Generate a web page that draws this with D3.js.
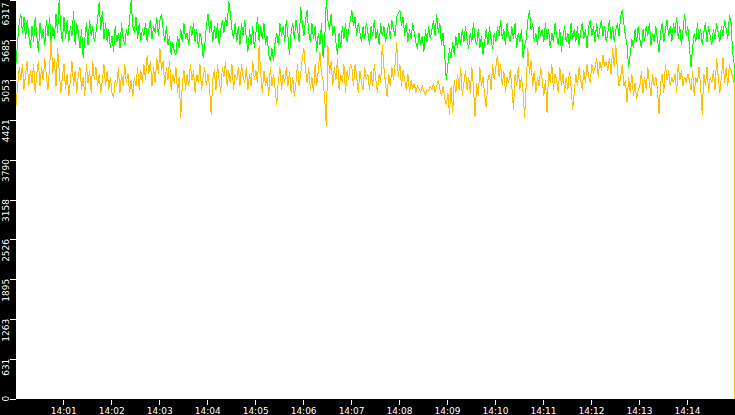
<!DOCTYPE html>
<html>
<head>
<meta charset="utf-8">
<script src="https://cdn.jsdelivr.net/npm/d3@7"></script>
<style>
html, body { margin: 0; padding: 0; background: #000; overflow: hidden; }
svg { display: block; }
</style>
</head>
<body>
<svg id="chart"></svg>
<script>
const width = 735, height = 415;
const plot = { left: 16, right: 735, top: 0, bottom: 399 };

// samples every 2 s, last sample is the drop at the end of the window
const startTime = '14:00:01';
const endTime = '14:15:00';
const stepSeconds = 2;

const xTickLabels = ['14:01', '14:02', '14:03', '14:04', '14:05', '14:06', '14:07',
	'14:08', '14:09', '14:10', '14:11', '14:12', '14:13', '14:14'];
const yTickLabels = [0, 631, 1263, 1895, 2526, 3158, 3790, 4421, 5053, 5685, 6317];

const greenValues = [
	5320, 5650, 5950, 6100, 5800, 6050, 5700, 6000, 5750, 5550,
	5900, 5650, 6050, 5750, 5500, 5950, 5700, 5850, 5600, 6000,
	5750, 6050, 5600, 5900, 5700, 6100, 5800, 6317, 5850, 5650,
	6050, 5700, 6000, 5650, 5900, 5750, 6150, 5600, 5950, 5800,
	5550, 5850, 5400, 5700, 5950, 5600, 6000, 5750, 5900, 5650,
	5800, 6000, 6280, 5850, 6150, 5700, 5950, 5650, 5850, 5550,
	5750, 5500, 5900, 5650, 5800, 5550, 5950, 5700, 5600, 5850,
	5750, 6000, 6317, 5900, 5800, 6050, 5700, 5950, 5650, 5850,
	5750, 5950, 5650, 5850, 6000, 5700, 5900, 5800, 6050, 5750,
	6000, 6100, 5850, 5650, 5900, 5600, 5750, 5450, 5650, 5500,
	5450, 5750, 5550, 5850, 5650, 5950, 5700, 5800, 5600, 5900,
	5750, 5950, 5650, 5850, 5550, 5800, 5700, 5400, 5600, 5900,
	6100, 5800, 6000, 5650, 5900, 5700, 5950, 5600, 5850, 6000,
	5800, 6050, 5900, 6300, 6100, 5850, 5700, 5950, 5650, 5900,
	5600, 5950, 5750, 6000, 5700, 5500, 5850, 5600, 5900, 5550,
	5800, 6050, 5650, 5900, 5700, 5950, 5600, 5750, 5450, 5350,
	5550, 5350, 5650, 5800, 5600, 5950, 5750, 5900, 5650, 6000,
	5750, 5450, 5800, 5950, 5700, 6000, 5850, 5650, 6200, 5950,
	5750, 6000, 6150, 5800, 5650, 5950, 5700, 5900, 5500, 5800,
	5600, 5950, 5400, 5700, 6317, 6000, 5850, 6100, 5750, 5900,
	5650, 5450, 5800, 5550, 5900, 5700, 5950, 5650, 5850, 6000,
	6150, 5900, 6050, 5750, 5950, 5800, 5650, 5900, 5700, 5950,
	5800, 5600, 5900, 5750, 6000, 5700, 5850, 5600, 5950, 5750,
	5900, 5650, 5800, 5950, 5700, 6000, 5850, 5750, 6050, 6100,
	6160, 5900, 6050, 5750, 5950, 5650, 5850, 5700, 5950, 5800,
	5650, 5550, 5800, 5600, 5750, 5500, 5850, 5650, 5900, 5700,
	5850, 6000, 5750, 6100, 5800, 5950, 5600, 5800, 5450, 5050,
	5300, 5550, 5400, 5650, 5450, 5750, 5550, 5800, 5600, 5850,
	5650, 5900, 5700, 5550, 5800, 5650, 5950, 5700, 5600, 5850,
	5550, 5750, 5450, 5650, 5850, 5600, 5900, 5700, 5550, 5800,
	5650, 5900, 5750, 6000, 5700, 5850, 5600, 5950, 5750, 5650,
	5900, 5700, 5950, 5550, 5800, 5650, 5850, 5400, 5600, 5700,
	6000, 6160, 5850, 5950, 5650, 5800, 5600, 5900, 5750, 5850,
	5650, 5950, 5700, 5850, 5550, 5800, 5650, 5950, 5750, 5600,
	5850, 5500, 5750, 5900, 5650, 5800, 5550, 5950, 5700, 5850,
	5650, 5900, 5600, 5800, 5950, 5700, 5850, 5550, 5900, 6000,
	5750, 5900, 5650, 5950, 5700, 5850, 6000, 5750, 5900, 5650,
	5800, 6000, 5700, 5900, 5650, 5850, 5950, 5750, 6050, 6150,
	5950, 5750, 5600, 5250, 5450, 5700, 5550, 5850, 5650, 5900,
	5700, 5550, 5850, 5650, 5900, 5750, 5950, 5600, 5800, 5650,
	5900, 5700, 5500, 5800, 5950, 5650, 5850, 6000, 5750, 5900,
	5650, 5950, 5800, 6050, 5700, 5900, 5600, 5850, 6100, 5750,
	5900, 5600, 5250, 5550, 5800, 5650, 5950, 5700, 5850, 5600,
	5800, 5950, 5650, 5900, 5750, 5600, 5850, 5700, 5950, 5800,
	5650, 5900, 5750, 6000, 5850, 5700, 6080, 5950, 5500, 5300,
	2600
];

const yellowValues = [
	4650, 4950, 5250, 5050, 5300, 4900, 5150, 5350, 4950, 5200,
	5000, 5300, 4850, 5150, 5350, 4950, 5250, 5050, 5400, 5100,
	4900, 5250, 5700, 5150, 5400, 4950, 5550, 5200, 4850, 5100,
	5300, 4900, 5150, 4800, 5050, 5350, 4950, 5200, 4850, 5150,
	5250, 4900, 5100, 4800, 5300, 5000, 5200, 4850, 5350, 5050,
	5250, 4950, 5150, 4850, 5050, 5300, 4950, 5200, 4900, 5100,
	4850, 4760, 5050, 4950, 5250, 4850, 5150, 4950, 5300, 5000,
	5150, 4850, 5050, 4780, 5100, 4950, 5250, 4900, 5200, 5000,
	5300, 5050, 5450, 5150, 5350, 4950, 5250, 5000, 5400, 5150,
	5550, 5200, 5350, 4950, 5250, 5050, 5350, 4900, 5150, 5000,
	5250, 4850, 5100, 4450, 5000, 5200, 4900, 5150, 4950, 5300,
	5050, 5200, 4850, 5150, 5000, 5300, 4900, 5100, 5250, 4950,
	5150, 4950, 4500, 5050, 5200, 4900, 5300, 5050, 4850, 5250,
	5100, 5350, 4950, 5200, 5000, 5300, 4900, 5150, 5050, 5250,
	4950, 5300, 5100, 5000, 5250, 4900, 5150, 4950, 5350, 5050,
	5200, 5000, 5600, 5150, 4850, 5200, 4950, 5100, 4800, 5250,
	4950, 5150, 4900, 4650, 5050, 5250, 4900, 5150, 5000, 5250,
	4950, 5200, 4850, 5100, 4780, 5000, 5300, 4950, 5150, 5400,
	5550, 5200, 5000, 5250, 4900, 5100, 4850, 5300, 4950, 5200,
	5500, 5150, 5050, 4750, 4320, 5600, 5150, 5350, 4950, 5250,
	5050, 5400, 4900, 5150, 5000, 5300, 4850, 5200, 5050, 5300,
	5250, 4950, 5300, 5100, 4850, 5200, 5000, 4900, 5250, 5050,
	5150, 4900, 5200, 4950, 5300, 5050, 4850, 5150, 5000, 5620,
	5250, 5000, 4780, 5150, 4950, 5250, 5050, 5300, 5650, 5100,
	5300, 4950, 5200, 5050, 4900, 5150, 4850, 5050, 4900, 5000,
	4850, 4950, 4900, 4850, 4950, 4870, 4820, 4900, 4880, 4950,
	4900, 5000, 4850, 4950, 5050, 4900, 4800, 4950, 4750, 4650,
	4850, 4500, 4950, 4530, 5050, 4850, 5150, 4900, 5250, 4800,
	5000, 5200, 4900, 5100, 4850, 5250, 4950, 4470, 5000, 4800,
	5250, 4950, 5100, 4800, 4600, 5050, 5150, 4900, 5300, 5050,
	5250, 5450, 5100, 5300, 4950, 5200, 4850, 5100, 5000, 5200,
	4950, 4580, 5150, 4950, 5250, 4900, 5100, 4850, 4450, 5000,
	5550, 5150, 5350, 4950, 5200, 4850, 5100, 4950, 5250, 5050,
	4800, 5050, 4530, 5200, 5000, 5300, 4900, 5150, 5050, 4850,
	5250, 4950, 5150, 4850, 5100, 4900, 5200, 4950, 4580, 4850,
	5150, 4950, 5250, 5050, 4900, 5200, 5000, 5300, 5100, 5000,
	5300, 5150, 5250, 5400, 5100, 5350, 5200, 5450, 5250, 5350,
	5200, 5400, 5150, 5550, 5250, 5600, 5200, 4950, 5100, 5300,
	4950, 5050, 4700, 5100, 4850, 5150, 4800, 5000, 4750, 4900,
	4950, 5200, 4850, 5100, 4900, 5250, 5000, 4800, 5150, 4950,
	5100, 4900, 4520, 5000, 5150, 4850, 5300, 5050, 5200, 4950,
	5100, 5000, 5150, 4850, 5300, 5050, 5200, 4950, 5100, 5000,
	5150, 5050, 4900, 5200, 4800, 5100, 5000, 5250, 4950, 4500,
	5150, 4950, 5250, 4850, 5100, 5000, 5200, 4900, 5400, 5100,
	4850, 5100, 5400, 5000, 5250, 4950, 5300, 5200, 5100, 5000,
	0
];

const colors = { green: '#00ff00', yellow: '#ffc000', axis: '#fff', back: '#000', plot: '#fff' };
const font = { family: '"DejaVu Sans", sans-serif', size: 9 };

const parseTime = d3.timeParse('%H:%M:%S');
const parseTick = d3.timeParse('%H:%M');
const t0 = parseTime(startTime);
const times = d3.range(greenValues.length - 1).map(i => d3.timeSecond.offset(t0, i * stepSeconds));
times.push(parseTime(endTime));

const x = d3.scaleTime().domain([t0, parseTime(endTime)]).range([plot.left, plot.right]);
const y = d3.scaleLinear().domain([0, 6317]).range([plot.bottom, plot.top]);

const svg = d3.select('#chart').attr('width', width).attr('height', height);
svg.append('rect').attr('width', width).attr('height', height).attr('fill', colors.back);
svg.append('rect')
	.attr('x', plot.left).attr('y', plot.top)
	.attr('width', plot.right - plot.left).attr('height', plot.bottom - plot.top)
	.attr('fill', colors.plot);

// green first, yellow is drawn over it
const line = d3.line().x((d, i) => x(times[i])).y(d => y(d));
for (const [values, color] of [[greenValues, colors.green], [yellowValues, colors.yellow]]) {
	svg.append('path')
		.datum(values)
		.attr('d', line)
		.attr('fill', 'none')
		.attr('stroke', color)
		.attr('stroke-width', 1)
		.attr('shape-rendering', 'crispEdges');
}

// bottom axis
const xAxis = d3.axisBottom(x)
	.tickValues(xTickLabels.map(parseTick))
	.tickFormat(d3.timeFormat('%H:%M'))
	.tickSize(5)
	.tickPadding(3);
const xg = svg.append('g')
	.attr('transform', `translate(0,${plot.bottom + 1})`)
	.call(xAxis);
xg.select('.domain').remove();
xg.selectAll('line').attr('stroke', colors.axis).attr('shape-rendering', 'crispEdges');
xg.selectAll('text')
	.attr('fill', colors.axis)
	.attr('font-family', font.family)
	.attr('font-size', font.size);

// left axis, labels rotated
const yAxis = d3.axisLeft(y).tickValues(yTickLabels).tickFormat(d => d).tickSize(6);
const yg = svg.append('g')
	.attr('transform', `translate(${plot.left},0)`)
	.call(yAxis);
yg.select('.domain').remove();
yg.selectAll('line').attr('stroke', colors.axis).attr('shape-rendering', 'crispEdges');
yg.selectAll('text')
	.attr('fill', colors.axis)
	.attr('font-family', font.family)
	.attr('font-size', font.size)
	.attr('dy', null)
	.attr('text-anchor', 'end')
	.attr('transform', 'rotate(-90)')
	.attr('y', -7)
	.each(function(d) {
		const len = this.getComputedTextLength();
		const tickY = y(d);
		const top = Math.max(2, Math.min(tickY - 1, plot.bottom + 2 - len));
		d3.select(this).attr('x', tickY - top);
	});
</script>
</body>
</html>
